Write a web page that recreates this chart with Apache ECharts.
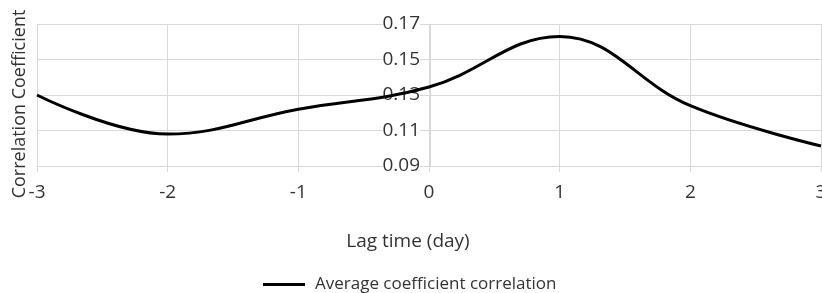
<!DOCTYPE html>
<html>
<head>
<meta charset="utf-8">
<script src="https://cdn.jsdelivr.net/npm/echarts@6/dist/echarts.min.js"></script>
<style>
html, body { margin: 0; padding: 0; background: #fff; }
#chart { width: 822px; height: 293px; }
</style>
</head>
<body>
<div id="chart"></div>
<script>
// lag time in days and the averaged coefficient
var lagDays = [-3, -2, -1, 0, 1, 2, 3];
var avgCoef = [0.130, 0.108, 0.122, 0.1345, 0.163, 0.124, 0.1013];
var seriesName = 'Average coefficient correlation';

var points = lagDays.map(function (d, i) { return [d, avgCoef[i]]; });

var txt = '#333333';
var grey = '#d9d9d9';
var font = 'Open Sans';

var option = {
    animation: false,
    textStyle: { fontFamily: font },
    grid: { left: 37, right: 1, top: 24, bottom: 127, outerBoundsMode: 'none' },
    legend: {
        left: 258,
        top: 271,
        icon: 'rect',
        itemWidth: 42,
        itemHeight: 3,
        itemStyle: { color: '#000' },
        textStyle: { color: txt, fontSize: 17, fontFamily: font, padding: [0, 0, 0, 5] },
        data: [seriesName]
    },
    graphic: [{
        type: 'text',
        x: 20,
        y: 104,
        rotation: Math.PI / 2,
        style: {
            text: 'Correlation Coefficient',
            fill: txt,
            font: '18px "' + font + '"',
            textAlign: 'center',
            textVerticalAlign: 'middle'
        }
    }],
    xAxis: {
        type: 'value',
        min: -3,
        max: 3,
        interval: 1,
        name: 'Lag time (day)',
        nameLocation: 'middle',
        nameGap: 66,
        // title sits a little left of the plot centre in the original
        nameTextStyle: { color: txt, fontSize: 19, padding: [0, 42, 0, 0] },
        axisLine: { lineStyle: { color: grey, width: 1 } },
        axisTick: { show: true, length: 6, lineStyle: { color: grey } },
        axisLabel: { color: txt, fontSize: 19, margin: 17 },
        splitLine: { show: true, lineStyle: { color: grey, width: 1 } }
    },
    yAxis: {
        type: 'value',
        min: 0.09,
        max: 0.17,
        interval: 0.02,
        // the value axis sits at lag 0 in the middle of the plot
        offset: -393,
        axisLine: { show: true, onZero: false, lineStyle: { color: grey, width: 1 } },
        axisTick: { show: true, length: 5, lineStyle: { color: grey } },
        axisLabel: {
            color: txt,
            fontSize: 19,
            margin: 10,
            backgroundColor: '#fff',
            formatter: function (v) { return v.toFixed(2); }
        },
        splitLine: { show: true, lineStyle: { color: grey, width: 1 } }
    },
    series: [{
        name: seriesName,
        type: 'line',
        data: points,
        smooth: 0.4,
        symbol: 'none',
        lineStyle: { color: '#000', width: 3 },
        itemStyle: { color: '#000' },
        z: 5
    }]
};

var chart = echarts.init(document.getElementById('chart'));
chart.setOption(option);
</script>
</body>
</html>
